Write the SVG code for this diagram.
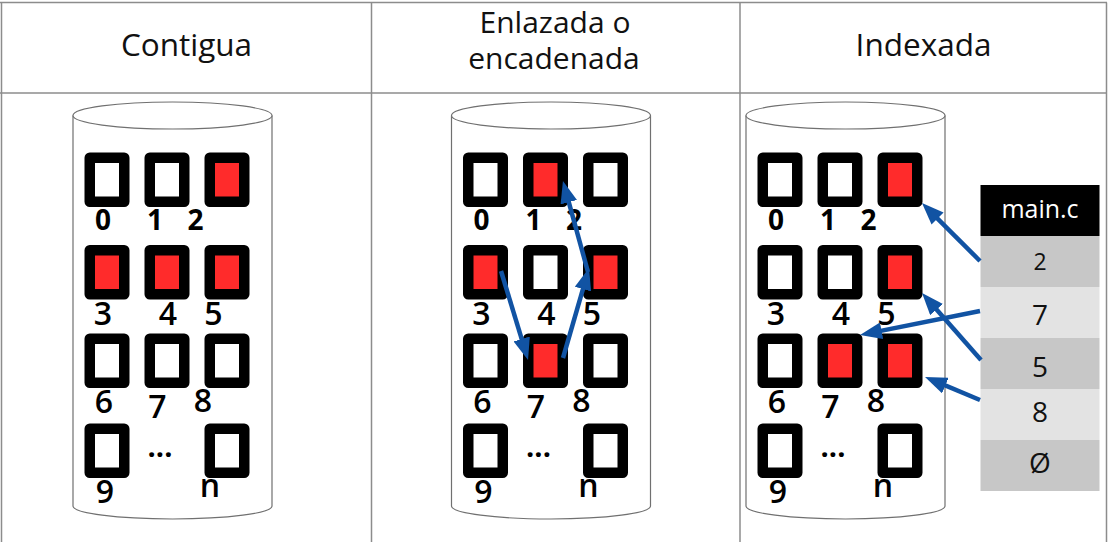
<svg xmlns="http://www.w3.org/2000/svg" width="1114" height="542" viewBox="0 0 1114 542">
<style>
.grid{stroke:#8c8c8c;stroke-width:1.5;fill:none}
.cyl{fill:#fff;stroke:#707070;stroke-width:1.2}
.b{stroke:#000;stroke-width:10.5;stroke-linejoin:round;fill:#fff}
.r{fill:#ff2b2b}
.hd{font-family:"Open Sans","Liberation Sans",sans-serif;font-size:31.5px;fill:#111;text-anchor:middle}
.l1{font-family:"Open Sans","Liberation Sans",sans-serif;font-size:28px;font-weight:700;fill:#000;text-anchor:middle}
.l2{font-family:"Open Sans","Liberation Sans",sans-serif;font-size:32px;font-weight:600;fill:#000;text-anchor:middle}
.dots{font-family:"Open Sans","Liberation Sans",sans-serif;font-size:29px;font-weight:700;fill:#000;text-anchor:middle}
.tc{font-family:"Open Sans","Liberation Sans",sans-serif;font-size:28px;fill:#111;text-anchor:middle}
.ar{stroke:#1153a3;stroke-width:4.5;fill:none;marker-end:url(#ah)}
</style>
<defs>
<marker id="ah" viewBox="0 0 22 17" markerWidth="22" markerHeight="17" refX="6" refY="8.5" orient="auto" markerUnits="userSpaceOnUse">
<path d="M0,0 L22,8.5 L0,17 z" fill="#1153a3"/>
</marker>
</defs>
<rect x="0" y="0" width="1114" height="542" fill="#fff"/>
<g id="table-grid">
<line class="grid" x1="0" y1="2.5" x2="1107" y2="2.5"/>
<line class="grid" x1="0" y1="93" x2="1107" y2="93"/>
<line class="grid" x1="1.5" y1="2.5" x2="1.5" y2="542"/>
<line class="grid" x1="371.5" y1="2.5" x2="371.5" y2="542"/>
<line class="grid" x1="740" y1="2.5" x2="740" y2="542"/>
<line class="grid" x1="1106.5" y1="2.5" x2="1106.5" y2="542"/>
</g>
<g id="headers">
<text class="hd" x="186.5" y="56">Contigua</text>
<text class="hd" x="555" y="32.5" style="font-size:30px">Enlazada o</text>
<text class="hd" x="554" y="68.5" style="font-size:30px">encadenada</text>
<text class="hd" x="923.5" y="56">Indexada</text>
</g>

<g id="contigua">
<path class="cyl" d="M73,115.5 L73,506 A99.5,13 0 0 0 272,506 L272,115.5"/>
<ellipse class="cyl" cx="172.5" cy="115.5" rx="99.5" ry="13.5"/>
<rect class="b" x="89.75" y="157.75" width="34.5" height="44"/>
<rect class="b" x="149.75" y="157.75" width="34.5" height="44"/>
<rect class="b r" x="209.75" y="157.75" width="34.5" height="44"/>
<rect class="b r" x="89.75" y="250.25" width="34.5" height="44"/>
<rect class="b r" x="149.75" y="250.25" width="34.5" height="44"/>
<rect class="b r" x="209.75" y="250.25" width="34.5" height="44"/>
<rect class="b" x="89.75" y="338.75" width="34.5" height="44"/>
<rect class="b" x="149.75" y="338.75" width="34.5" height="44"/>
<rect class="b" x="209.75" y="338.75" width="34.5" height="44"/>
<rect class="b" x="89.75" y="428.75" width="34.5" height="44"/>
<rect class="b" x="209.75" y="428.75" width="34.5" height="44"/>
<text class="l1" x="103" y="229.5">0</text>
<text class="l1" x="155" y="229.5">1</text>
<text class="l1" x="195.5" y="229.5">2</text>
<text class="l2" x="103" y="325">3</text>
<text class="l2" x="168" y="325">4</text>
<text class="l2" x="213.5" y="325">5</text>
<text class="l2" x="104" y="413">6</text>
<text class="l2" x="157.5" y="418">7</text>
<text class="l2" x="203" y="412">8</text>
<text class="l2" x="105" y="503">9</text>
<text class="dots" x="160" y="457">...</text>
<text class="l2" x="210" y="497">n</text>
</g>

<g id="enlazada">
<path class="cyl" d="M451.5,115.5 L451.5,506 A99.5,13 0 0 0 650.5,506 L650.5,115.5"/>
<ellipse class="cyl" cx="551" cy="115.5" rx="99.5" ry="13.5"/>
<rect class="b" x="468.25" y="157.75" width="34.5" height="44"/>
<rect class="b r" x="528.25" y="157.75" width="34.5" height="44"/>
<rect class="b" x="588.25" y="157.75" width="34.5" height="44"/>
<rect class="b r" x="468.25" y="250.25" width="34.5" height="44"/>
<rect class="b" x="528.25" y="250.25" width="34.5" height="44"/>
<rect class="b r" x="588.25" y="250.25" width="34.5" height="44"/>
<rect class="b" x="468.25" y="338.75" width="34.5" height="44"/>
<rect class="b r" x="528.25" y="338.75" width="34.5" height="44"/>
<rect class="b" x="588.25" y="338.75" width="34.5" height="44"/>
<rect class="b" x="468.25" y="428.75" width="34.5" height="44"/>
<rect class="b" x="588.25" y="428.75" width="34.5" height="44"/>
<text class="l1" x="481.5" y="229.5">0</text>
<text class="l1" x="533.5" y="229.5">1</text>
<text class="l1" x="574" y="229.5">2</text>
<text class="l2" x="481.5" y="325">3</text>
<text class="l2" x="546.5" y="325">4</text>
<text class="l2" x="592" y="325">5</text>
<text class="l2" x="482.5" y="413">6</text>
<text class="l2" x="536" y="418">7</text>
<text class="l2" x="581.5" y="412">8</text>
<text class="l2" x="483.5" y="503">9</text>
<text class="dots" x="538.5" y="457">...</text>
<text class="l2" x="588.5" y="497">n</text>
</g>

<g id="indexada">
<path class="cyl" d="M746,115.5 L746,506 A99.5,13 0 0 0 945,506 L945,115.5"/>
<ellipse class="cyl" cx="845.5" cy="115.5" rx="99.5" ry="13.5"/>
<rect class="b" x="762.75" y="157.75" width="34.5" height="44"/>
<rect class="b" x="822.75" y="157.75" width="34.5" height="44"/>
<rect class="b r" x="882.75" y="157.75" width="34.5" height="44"/>
<rect class="b" x="762.75" y="250.25" width="34.5" height="44"/>
<rect class="b" x="822.75" y="250.25" width="34.5" height="44"/>
<rect class="b r" x="882.75" y="250.25" width="34.5" height="44"/>
<rect class="b" x="762.75" y="338.75" width="34.5" height="44"/>
<rect class="b r" x="822.75" y="338.75" width="34.5" height="44"/>
<rect class="b r" x="882.75" y="338.75" width="34.5" height="44"/>
<rect class="b" x="762.75" y="428.75" width="34.5" height="44"/>
<rect class="b" x="882.75" y="428.75" width="34.5" height="44"/>
<text class="l1" x="776" y="229.5">0</text>
<text class="l1" x="828" y="229.5">1</text>
<text class="l1" x="868.5" y="229.5">2</text>
<text class="l2" x="776" y="325">3</text>
<text class="l2" x="841" y="325">4</text>
<text class="l2" x="886.5" y="325">5</text>
<text class="l2" x="777" y="413">6</text>
<text class="l2" x="830.5" y="418">7</text>
<text class="l2" x="876" y="412">8</text>
<text class="l2" x="778" y="503">9</text>
<text class="dots" x="833" y="457">...</text>
<text class="l2" x="883" y="497">n</text>
</g>

<g id="index-table">
<rect x="980.5" y="185" width="119" height="51" fill="#000"/>
<rect x="980.5" y="236" width="119" height="51" fill="#c7c7c7"/>
<rect x="980.5" y="287" width="119" height="51" fill="#e3e3e3"/>
<rect x="980.5" y="338" width="119" height="51" fill="#c7c7c7"/>
<rect x="980.5" y="389" width="119" height="51" fill="#e3e3e3"/>
<rect x="980.5" y="440" width="119" height="51" fill="#c7c7c7"/>
<text class="tc" x="1040" y="218" style="fill:#fff;font-size:25px">main.c</text>
<text class="tc" x="1040" y="269.5" style="font-size:23px">2</text>
<text class="tc" x="1040" y="325">7</text>
<text class="tc" x="1040" y="376.5">5</text>
<text class="tc" x="1040" y="421.5">8</text>
<text class="tc" x="1040" y="473">Ø</text>
</g>

<g id="connectors">
<line class="ar" x1="501" y1="271" x2="523.4" y2="344.7"/>
<line class="ar" x1="563" y1="358" x2="584.6" y2="283.4"/>
<line class="ar" x1="588" y1="272" x2="567.2" y2="196.4"/>
<line class="ar" x1="980" y1="261" x2="933.3" y2="214.3"/>
<line class="ar" x1="980" y1="311" x2="875.7" y2="331.9"/>
<line class="ar" x1="981" y1="360" x2="932.6" y2="305"/>
<line class="ar" x1="980" y1="400" x2="939.8" y2="383.2"/>
</g>
</svg>
